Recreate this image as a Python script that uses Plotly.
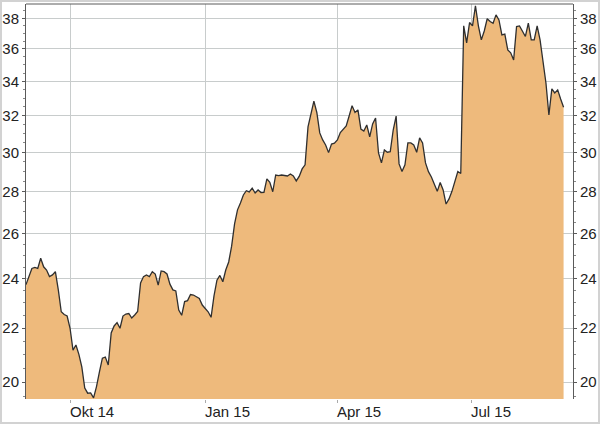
import math
import pandas as pd
import plotly.graph_objects as go

# --- data -------------------------------------------------------------
start_date = "2014-09-01"
step = "2D"
close = [
    23.75, 24.09, 24.44, 24.48, 24.44, 24.88, 24.51, 24.37, 24.09, 24.16,
    24.30, 23.53, 22.64, 22.53, 22.47, 21.99, 21.16, 21.35, 21.00, 20.54,
    19.79, 19.61, 19.62, 19.45, 19.84, 20.36, 20.86, 20.90, 20.61, 21.81,
    22.08, 22.21, 21.99, 22.47, 22.55, 22.57, 22.39, 22.51, 22.65, 23.82,
    24.09, 24.16, 24.09, 24.30, 24.20, 23.73, 24.33, 24.30, 24.20, 23.77,
    23.53, 23.49, 22.71, 22.50, 23.05, 23.09, 23.34, 23.32, 23.25, 23.18,
    22.91, 22.78, 22.64, 22.42, 23.28, 23.94, 24.14, 23.87, 24.37, 24.72,
    25.42, 26.44, 27.10, 27.43, 27.82, 28.03, 27.97, 28.16, 27.92, 28.07,
    27.94, 27.95, 28.62, 28.45, 27.98, 28.82, 28.79, 28.82, 28.79, 28.77,
    28.87, 28.77, 28.52, 28.75, 29.13, 29.34, 31.37, 32.10, 32.83, 32.18,
    31.04, 30.66, 30.39, 29.98, 30.44, 30.48, 30.66, 31.06, 31.25, 31.42,
    31.98, 32.57, 32.18, 32.33, 31.25, 31.14, 31.48, 30.83, 31.54, 31.87,
    29.96, 29.44, 30.12, 30.00, 30.03, 31.20, 31.98, 29.39, 29.00, 29.34,
    30.50, 30.50, 30.39, 30.00, 30.77, 30.50, 29.44, 28.99, 28.72, 28.32,
    28.00, 28.44, 28.07, 27.38, 27.63, 28.00, 28.47, 29.00, 28.90, 37.50,
    36.39, 37.72, 37.49, 38.85, 37.50, 36.58, 37.16, 37.97, 37.78, 37.67,
    38.23, 37.89, 36.90, 36.95, 35.94, 35.75, 35.31, 37.45, 37.49, 37.12,
    36.80, 37.67, 36.58, 36.58, 37.49, 36.58, 35.31, 33.90, 32.04, 33.55,
    33.31, 33.49, 32.96, 32.48,
]
dates = pd.date_range(start_date, periods=len(close), freq=step)

quarter_ticks = ["2014-10-01", "2015-01-01", "2015-04-01", "2015-07-01"]
quarter_labels = ["Okt 14", "Jan 15", "Apr 15", "Jul 15"]
y_ticks = [20, 22, 24, 26, 28, 30, 32, 34, 36, 38]
y_minor = [v / 2 for v in range(39, 79)]
x_range = ["2014-09-01", "2015-09-08 10:00"]
y_range = [19.41, 38.97]

# --- style ------------------------------------------------------------
W, H = 600, 424
ML, MR, MT, MB = 26, 27, 4, 25
PW, PH = W - ML - MR, H - MT - MB
FONT = "Liberation Sans, Arial, sans-serif"
TXT = "#222222"
AXIS = "#5a5a5a"
GRID = "#c8cccc"
FILL = "rgb(238,186,124)"

ylog = [math.log10(y_range[0]), math.log10(y_range[1])]

fig = go.Figure()
fig.add_trace(go.Scatter(
    x=dates, y=close, mode="lines", fill="tozeroy",
    fillcolor=FILL, line=dict(color="#2f2f2f", width=1.3),
    hoverinfo="skip", showlegend=False,
))
fig.add_trace(go.Scatter(
    x=dates, y=close, mode="lines", yaxis="y2",
    line=dict(color="rgba(0,0,0,0)", width=0),
    hoverinfo="skip", showlegend=False,
))

yaxis_common = dict(
    type="log", range=ylog, tickmode="array", tickvals=y_ticks,
    ticktext=[str(v) for v in y_ticks],
    ticks="outside", ticklen=3, tickcolor=AXIS, tickwidth=1,
    showline=True, linecolor=AXIS, linewidth=1,
    tickfont=dict(family=FONT, size=15, color=TXT),
    minor=dict(tickmode="array", tickvals=y_minor, ticks="outside",
               ticklen=2, tickcolor="#888888", showgrid=False),
    zeroline=False, fixedrange=True,
)

fig.update_layout(
    width=W, height=H,
    margin=dict(l=ML, r=MR, t=MT, b=MB, autoexpand=False),
    paper_bgcolor="white", plot_bgcolor="white",
    showlegend=False, hovermode=False,
    xaxis=dict(
        type="date", range=x_range, tickmode="array", tickvals=quarter_ticks,
        showticklabels=False, ticks="outside", ticklen=3, tickcolor="#aaaaaa",
        showgrid=True, gridcolor=GRID, gridwidth=1,
        showline=False, zeroline=False, fixedrange=True,
    ),
    yaxis=dict(**yaxis_common, side="left", showgrid=True, gridcolor=GRID, gridwidth=1),
    yaxis2=dict(**yaxis_common, side="right", overlaying="y", showgrid=False),
)

# left-aligned date labels starting at each quarter tick
for d, lab in zip(quarter_ticks, quarter_labels):
    fig.add_annotation(
        x=d, xref="x", y=0, yref="paper", yanchor="top", xanchor="left",
        text=lab, showarrow=False, yshift=-2, xshift=-2,
        font=dict(family=FONT, size=15, color=TXT),
    )

# top frame line
fig.add_shape(type="line", xref="paper", yref="paper", x0=0, x1=1, y0=1, y1=1,
              line=dict(color=AXIS, width=1), layer="above")
# light outer border of the image
fig.add_shape(type="rect", xref="paper", yref="paper",
              x0=(-ML + 1) / PW, x1=1 + (MR - 1) / PW,
              y0=(-MB + 1) / PH, y1=1 + (MT - 1) / PH,
              line=dict(color="#d2d2d2", width=2), layer="above")

fig.write_html(
    "out.html",
    config={"displayModeBar": False},
    post_script="document.body.style.margin='0';document.body.style.padding='0';",
)
